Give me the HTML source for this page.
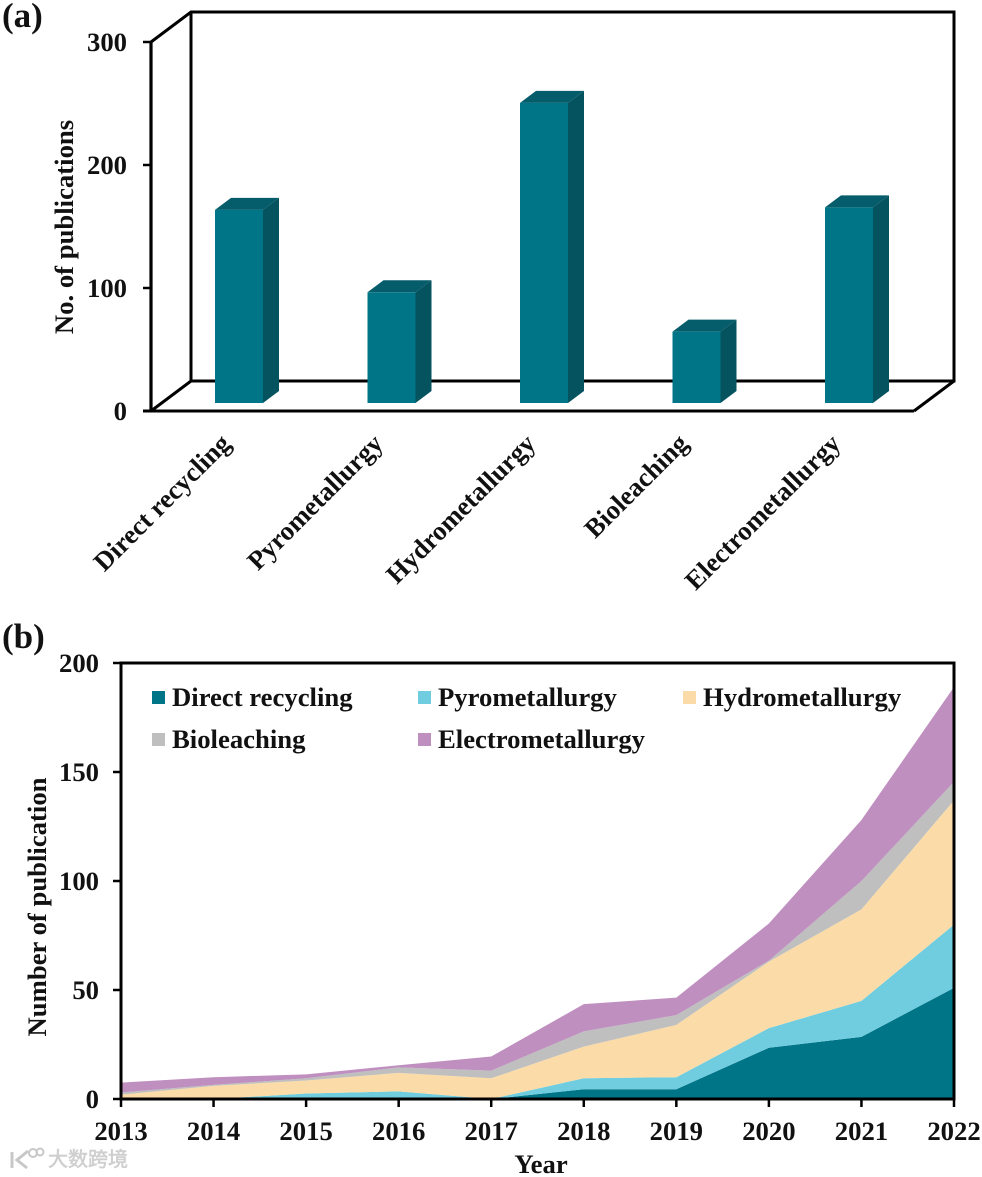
<!DOCTYPE html>
<html lang="en">
<head>
<meta charset="utf-8">
<title>Publications by recycling method</title>
<style>
html,body{margin:0;padding:0;background:#fff;}
svg{display:block;}
text{font-family:"Liberation Serif","Noto Sans CJK SC",serif;font-weight:bold;fill:#111;}
</style>
</head>
<body>
<svg id="figure" xmlns="http://www.w3.org/2000/svg" width="982" height="1177" viewBox="0 0 982 1177">
<text x="2" y="27" font-size="35">(a)</text>
<text x="2" y="648" font-size="35">(b)</text>
<text transform="translate(73,227) rotate(-90)" text-anchor="middle" font-size="26.7">No. of publications</text>
<text transform="translate(46,907) rotate(-90)" text-anchor="middle" font-size="26.7">Number of publication</text>
<text x="541" y="1173" text-anchor="middle" font-size="26.7">Year</text>
<g id="panel-a"></g>
<g id="panel-b"></g>
<g>
  <path d="M12 1152v16M28 1151l-11 9 10 8" fill="none" stroke="#c8c8c8" stroke-width="3"/>
  <circle cx="33" cy="1153" r="4" fill="none" stroke="#c8c8c8" stroke-width="2"/>
  <circle cx="40" cy="1152" r="3.5" fill="none" stroke="#c8c8c8" stroke-width="2"/>
  <text x="48" y="1166" font-size="20" style="fill:#cfcfcf;stroke:#cfcfcf;stroke-width:0.6;font-family:'Noto Sans CJK SC',sans-serif;font-weight:normal">大数跨境</text>
</g>
</svg>
<script>
// Panel (a) data
const barCategories = ["Direct recycling", "Pyrometallurgy", "Hydrometallurgy", "Bioleaching", "Electrometallurgy"];
const barValues = [157, 90, 244, 58, 159];
const barTicks = [0, 100, 200, 300];

// Panel (b) data
const years = [2013, 2014, 2015, 2016, 2017, 2018, 2019, 2020, 2021, 2022];
const directRecycling = [0, 0, 0, 0, 0, 4.5, 4.5, 23.5, 28.5, 51];
const pyrometallurgy = [0, 0, 2.5, 3.5, 0, 5, 5.5, 9, 16.5, 29];
const hydrometallurgy = [2, 6, 6, 8.5, 9.5, 14.5, 24, 30.5, 42, 57];
const bioleaching = [1, 0.5, 1, 2.5, 3.5, 7, 4.5, 0.5, 13, 8.5];
const electrometallurgy = [4.5, 3.5, 1.8, 1, 6.5, 12.5, 8, 17, 28, 43.5];
const areaTicks = [0, 50, 100, 150, 200];

const NS = "http://www.w3.org/2000/svg";
function make(tag, parent, props, content) {
  const el = document.createElementNS(NS, tag);
  for (const k in props) el.setAttribute(k, props[k]);
  if (content !== undefined) el.textContent = content;
  parent.appendChild(el);
  return el;
}

// ---- Panel (a) ----
const gA = document.getElementById("panel-a");
const axisFrontY = v => 411 - v * 1.23;
const barBaseY = v => 403 - v * 1.23;
const barLeftX = i => 215 + i * 152.5;
const barWidth = 48, depthX = 16, depthY = 12;

const wall = make("path", gA, {d: "M151 42L191 12H954V381H191V12M151 411L191 381M914 411L954 381", fill: "none", stroke: "#000", "stroke-width": 3});


const yAxisA = make("line", gA, {x1: 151, y1: axisFrontY(300), x2: 151, y2: axisFrontY(0), stroke: "#000", "stroke-width": 3.2});


const xAxisA = make("line", gA, {x1: 143, y1: axisFrontY(0), x2: 914, y2: axisFrontY(0), stroke: "#000", "stroke-width": 3});



barTicks.forEach(t => {
  const tick = make("line", gA, {x1: 143, x2: 151, y1: axisFrontY(t), y2: axisFrontY(t), stroke: "#000", "stroke-width": 2.5});
  
  
  const label = make("text", gA, {x: 127, y: axisFrontY(t) + 9, "text-anchor": "end", "font-size": 26.7}, String(t));
  
  
});

barCategories.forEach((c, i) => {
  const x = barLeftX(i), top = barBaseY(barValues[i]), w = barWidth;
  const side = make("polygon", gA, {points: [[x + w, top], [x + w + depthX, top - depthY], [x + w + depthX, 403 - depthY], [x + w, 403]].join(" "), fill: "#04535f"});
  
  
  const cap = make("polygon", gA, {points: [[x, top], [x + depthX, top - depthY], [x + w + depthX, top - depthY], [x + w, top]].join(" "), fill: "#055c6a"});
  
  
  const front = make("rect", gA, {x: x, y: top, width: w, height: 403 - top, fill: "#007587"});
  
  
  const ex = x + 17, ey = 445;
  const label = make("text", gA, {transform: "translate(" + ex + "," + ey + ") rotate(-45)", "text-anchor": "end", "font-size": 26.7}, c);
  
  
});

// ---- Panel (b) ----
const gB = document.getElementById("panel-b");
const xB = i => 121 + i * (954 - 121) / (years.length - 1);
const yB = v => 1099 - v * 2.18;
const seriesList = [
  {name: "Direct recycling", values: directRecycling, color: "#007587", lx: 152, ly: 691},
  {name: "Pyrometallurgy", values: pyrometallurgy, color: "#70cde0", lx: 418, ly: 691},
  {name: "Hydrometallurgy", values: hydrometallurgy, color: "#fbdca8", lx: 683, ly: 691},
  {name: "Bioleaching", values: bioleaching, color: "#bfbfbf", lx: 152, ly: 733},
  {name: "Electrometallurgy", values: electrometallurgy, color: "#bf8fbf", lx: 418, ly: 733}
];

let base = years.map(() => 0);
seriesList.forEach(s => {
  const topVals = base.map((b, i) => b + s.values[i]);
  const up = topVals.map((v, i) => xB(i) + "," + yB(v));
  const down = base.map((v, i) => xB(i) + "," + yB(v)).reverse();
  const area = make("polygon", gB, {points: up.concat(down).join(" "), fill: s.color});
  
  
  base = topVals;
});

const frame = make("path", gB, {d: "M121 663H954V1099H121Z", fill: "none", stroke: "#000", "stroke-width": 3});



areaTicks.forEach(t => {
  const tick = make("line", gB, {x1: 113, x2: 121, y1: yB(t), y2: yB(t), stroke: "#000", "stroke-width": 2.5});
  
  
  const label = make("text", gB, {x: 99, y: yB(t) + 9, "text-anchor": "end", "font-size": 26.7}, String(t));
  
  
});

years.forEach((yr, i) => {
  const tick = make("line", gB, {x1: xB(i), x2: xB(i), y1: 1099, y2: 1107, stroke: "#000", "stroke-width": 2.5});
  
  
  const label = make("text", gB, {x: xB(i), y: 1140, "text-anchor": "middle", "font-size": 26.7}, String(yr));
  
  
});

seriesList.forEach(s => {
  const swatch = make("rect", gB, {x: s.lx, y: s.ly, width: 13, height: 13, fill: s.color});
  
  
  const label = make("text", gB, {x: s.lx + 20, y: s.ly + 15, "font-size": 26.7}, s.name);
  
  
});
</script>
</body>
</html>
